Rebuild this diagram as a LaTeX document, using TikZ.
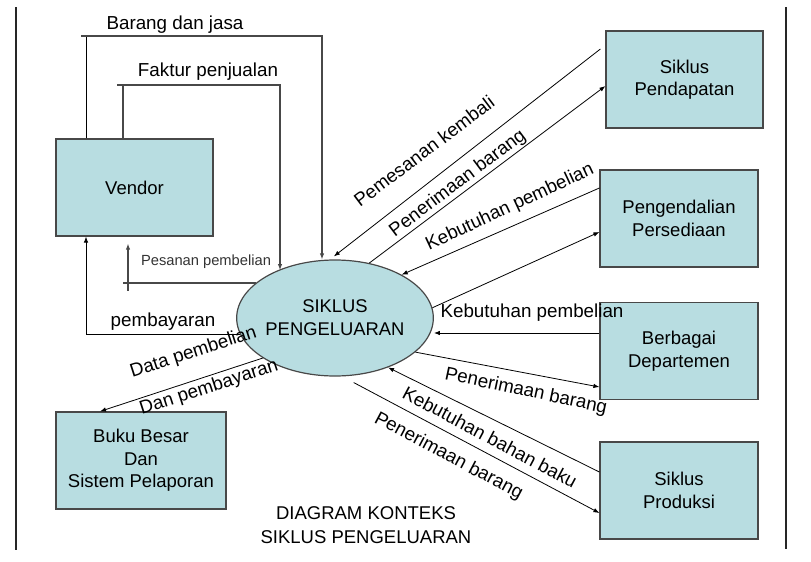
\documentclass[tikz,border=0pt]{standalone}
\usepackage{fontspec}
\setmainfont{Liberation Sans}
\usepackage{xcolor}
\usetikzlibrary{shapes.geometric, arrows.meta, positioning, calc}
\definecolor{cyclefill}{RGB}{184,221,225}
\definecolor{flowgray}{RGB}{72,72,72}

\begin{document}
\begin{tikzpicture}[x=1pt, y=-1pt,
  box/.style={rectangle, draw=flowgray, line width=1.2pt, fill=cyclefill, minimum width=157pt, minimum height=97pt, inner sep=0pt, align=center, font=\fontsize{18.5}{22.5}\selectfont},
  thickflow/.style={draw=flowgray, line width=1.6pt},
  thinflow/.style={draw=black, line width=0.8pt},
  tip/.style={-{Latex[length=6pt,width=4.5pt]}},
  lbl/.style={inner sep=0pt, font=\fontsize{18.8}{22}\selectfont}]
\useasboundingbox (0,0) rectangle (811,562);

% Frame lines at both sides
\draw[line width=2pt, black!85] (16,7) -- (16,550);
\draw[line width=2pt, black!85] (786,7) -- (786,549);

% Draw the external entities
\node[box] (vendor) at (134.5,187.5) {Vendor};
\node[box, minimum width=170pt] (ledger) at (141,460.5) {Buku Besar\\Dan\\Sistem Pelaporan};
\node[box] (revenue) at (684.5,79.5) {Siklus\\Pendapatan};
\node[box, minimum width=158pt] (inventory) at (679,218.5) {Pengendalian\\Persediaan};
\node[box, minimum width=158pt] (depts) at (679,351) {Berbagai\\Departemen};
\node[box, minimum width=158pt] (production) at (679,490.5) {Siklus\\Produksi};

% Draw the process in the middle
\node[ellipse, draw=flowgray, line width=1.2pt, fill=cyclefill, minimum width=182pt, minimum height=116pt, inner sep=0pt, align=center, font=\fontsize{18.4}{23}\selectfont] (expenditure) at (335,318) {SIKLUS\\PENGELUARAN};

% Flows between vendor and process
\coordinate (goodsL) at (81,36);
\coordinate (goodsR) at (322,36);
\coordinate (invoiceL) at (117,85);
\coordinate (invoiceR) at (280,85);
\draw[thinflow] ([xshift=-48.5pt]vendor.north) -- ([xshift=-48.5pt]vendor.north |- goodsL);
\draw[thickflow, tip] (goodsL) -- (goodsR) -- (goodsR |- expenditure.north);
\draw[thickflow] ([xshift=-11.5pt]vendor.north) -- ([xshift=-11.5pt]vendor.north |- invoiceL);
\draw[thickflow, tip] (invoiceL) -- (invoiceR) -- (invoiceR |- expenditure.140);
\draw[thickflow] (expenditure.156) -- ([xshift=-11.5pt]vendor.south |- expenditure.156);
\draw[thickflow, tip] ([xshift=-6.5pt, yshift=-54pt]vendor.south) -- ([xshift=-6.5pt, yshift=-7pt]vendor.south);
\draw[thinflow, tip] (expenditure.190) -| ([xshift=-48.5pt]vendor.south);
\draw[thinflow, tip] (expenditure.209) -- ([xshift=-41pt]ledger.north);

\node[lbl] (goodslbl) at (175,25) {Barang dan jasa};
\node[lbl] (invoicelbl) at (208,72) {Faktur penjualan};
\node[inner sep=0pt, font=\fontsize{14.7}{17}\selectfont, black!80] (orderlbl) at (206,262) {Pesanan pembelian};
\node[lbl] (paylbl) at (163,322) {pembayaran};
\node[lbl, rotate=18] (datalbl) at (193.5,352.5) {Data pembelian};
\node[lbl, rotate=18] (datalbl2) at (209,388) {Dan pembayaran};

% Flows on the right side
\draw[thinflow, tip, shorten >=5pt] ([xshift=-5pt, yshift=30.5pt]revenue.west) -- (expenditure.95);
\draw[thinflow, tip] (expenditure.58) -- ([yshift=-6.5pt]revenue.west);
\draw[thinflow, tip] ([yshift=30.5pt]inventory.west) -- (expenditure.33);
\draw[thinflow, tip] (expenditure.6) -- ([yshift=-13.5pt]inventory.west);
\draw[thinflow, tip] ([yshift=18pt]depts.west) -- ([yshift=18pt]depts.west -| expenditure.east);
\draw[thinflow, tip] (expenditure.-23) -- ([yshift=-36pt]depts.west);
\draw[thinflow, tip] ([yshift=18.5pt]production.west) -- (expenditure.-43);
\draw[thinflow, tip] ([yshift=-7pt]expenditure.-72) -- ([yshift=-22.5pt]production.west);

\node[lbl, rotate=37] (reorderlbl) at (424,151) {Pemesanan kembali};
\node[lbl, rotate=37] (receiptlbl) at (458,183.5) {Penerimaan barang};
\node[lbl, rotate=25] (needlbl) at (510,207.5) {Kebutuhan pembelian};
\node[lbl] (needlbl2) at (532,313) {Kebutuhan pembelian};
\node[lbl, rotate=-12] (receiptlbl2) at (526,391.5) {Penerimaan barang};
\node[lbl, rotate=-28] (rawlbl) at (490,437) {Kebutuhan bahan baku};
\node[lbl, rotate=-28] (receiptlbl3) at (448.5,456.5) {Penerimaan barang};

% Title
\node[inner sep=0pt, align=center, font=\fontsize{18.5}{24}\selectfont] (title) at (366,525) {DIAGRAM KONTEKS\\SIKLUS PENGELUARAN};
\end{tikzpicture}
\end{document}
